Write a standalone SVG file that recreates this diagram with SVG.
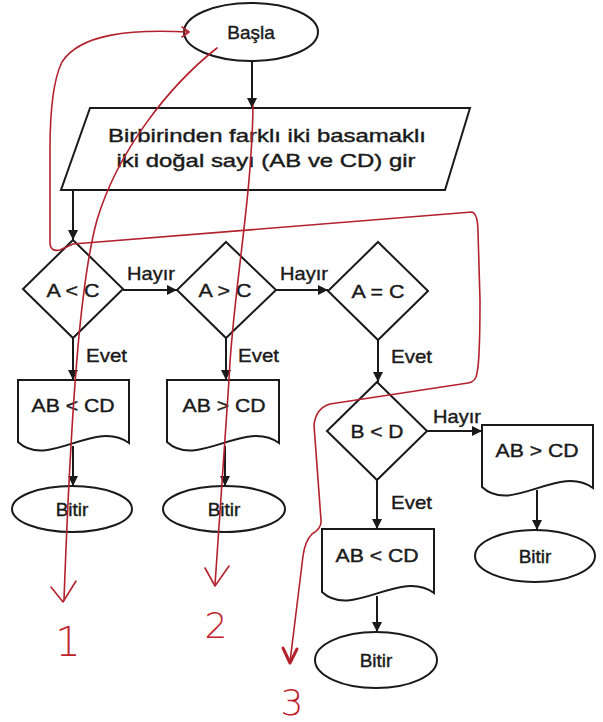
<svg xmlns="http://www.w3.org/2000/svg" width="603" height="722" viewBox="0 0 603 722">
  <style>
    .shape { fill: #ffffff; stroke: #1a1a1a; stroke-width: 2; }
    .lbl { font-family: "Liberation Sans", Arial, sans-serif; font-size: 19px; fill: #1a1a1a; stroke: #1a1a1a; stroke-width: 0.4; text-anchor: middle; }
    .tag { font-family: "Liberation Sans", Arial, sans-serif; font-size: 19px; fill: #1a1a1a; stroke: #1a1a1a; stroke-width: 0.4; }
    .conn { stroke: #1a1a1a; stroke-width: 2; fill: none; marker-end: url(#ah); }
    .pen { stroke: #b3222c; stroke-width: 1.6; fill: none; stroke-linecap: round; stroke-linejoin: round; }
    .num { font-family: "DejaVu Sans", sans-serif; font-weight: 300; fill: #c0222c; text-anchor: middle; }
  </style>
  <defs>
    <marker id="ah" viewBox="0 0 10 10" refX="10" refY="5" markerWidth="5" markerHeight="5" orient="auto" markerUnits="strokeWidth">
      <path d="M0,0 L10,5 L0,10 z" fill="#1a1a1a"/>
    </marker>
  </defs>
  <rect width="603" height="722" fill="#ffffff"/>

  <!-- connectors -->
  <g id="connectors">
    <line class="conn" x1="252" y1="62" x2="252" y2="108"/>
    <line class="conn" x1="73" y1="190" x2="73" y2="240"/>
    <line class="conn" x1="123" y1="290" x2="177" y2="290"/>
    <line class="conn" x1="276" y1="290" x2="328" y2="290"/>
    <line class="conn" x1="73" y1="338" x2="73" y2="380"/>
    <line class="conn" x1="226" y1="338" x2="226" y2="380"/>
    <line class="conn" x1="378" y1="340" x2="378" y2="382"/>
    <line class="conn" x1="427" y1="431" x2="482" y2="431"/>
    <line class="conn" x1="377" y1="480" x2="377" y2="529"/>
    <line class="conn" x1="73" y1="446" x2="73" y2="486"/>
    <line class="conn" x1="225" y1="446" x2="225" y2="486"/>
    <line class="conn" x1="537" y1="490" x2="537" y2="530"/>
    <line class="conn" x1="377" y1="596" x2="377" y2="632"/>
    <text class="tag" x="127" y="280" textLength="48" lengthAdjust="spacingAndGlyphs">Hayır</text>
    <text class="tag" x="280" y="280" textLength="48" lengthAdjust="spacingAndGlyphs">Hayır</text>
    <text class="tag" x="433" y="423" textLength="48" lengthAdjust="spacingAndGlyphs">Hayır</text>
    <text class="tag" x="86" y="362" textLength="41" lengthAdjust="spacingAndGlyphs">Evet</text>
    <text class="tag" x="238" y="362" textLength="41" lengthAdjust="spacingAndGlyphs">Evet</text>
    <text class="tag" x="391" y="363" textLength="41" lengthAdjust="spacingAndGlyphs">Evet</text>
    <text class="tag" x="391" y="509" textLength="41" lengthAdjust="spacingAndGlyphs">Evet</text>
  </g>

  <!-- start -->
  <g id="start">
    <ellipse class="shape" cx="251" cy="32" rx="67" ry="29"/>
    <text class="lbl" x="251" y="39">Başla</text>
  </g>

  <!-- input -->
  <g id="input">
    <polygon class="shape" points="90,108 470,108 445,190 61,190"/>
    <text class="lbl" x="267" y="142" textLength="318" lengthAdjust="spacingAndGlyphs">Birbirinden farklı iki basamaklı</text>
    <text class="lbl" x="266" y="167" textLength="299" lengthAdjust="spacingAndGlyphs">iki doğal sayı (AB ve CD) gir</text>
  </g>

  <!-- decisions -->
  <g id="dec-a-lt-c">
    <polygon class="shape" points="73,240 123,289 73,338 23,289"/>
    <text class="lbl" x="73" y="297" textLength="53" lengthAdjust="spacingAndGlyphs">A &lt; C</text>
  </g>
  <g id="dec-a-gt-c">
    <polygon class="shape" points="226,242 276,290 226,338 177,290"/>
    <text class="lbl" x="225" y="297" textLength="53" lengthAdjust="spacingAndGlyphs">A &gt; C</text>
  </g>
  <g id="dec-a-eq-c">
    <polygon class="shape" points="378,242 428,291 378,340 328,291"/>
    <text class="lbl" x="378" y="298" textLength="53" lengthAdjust="spacingAndGlyphs">A = C</text>
  </g>
  <g id="dec-b-lt-d">
    <polygon class="shape" points="377,382 427,431 377,480 327,431"/>
    <text class="lbl" x="377" y="438" textLength="53" lengthAdjust="spacingAndGlyphs">B &lt; D</text>
  </g>

  <!-- outputs -->
  <g id="out-1">
    <path class="shape" d="M18,380 H129 V443 C95,418 48,470 18,442 Z"/>
    <text class="lbl" x="73" y="412" textLength="83" lengthAdjust="spacingAndGlyphs">AB &lt; CD</text>
  </g>
  <g id="out-2">
    <path class="shape" d="M167,380 H279 V443 C245,418 197,470 167,442 Z"/>
    <text class="lbl" x="224" y="412" textLength="83" lengthAdjust="spacingAndGlyphs">AB &gt; CD</text>
  </g>
  <g id="out-3">
    <path class="shape" d="M482,425 H593 V488 C559,463 512,515 482,487 Z"/>
    <text class="lbl" x="537" y="457" textLength="83" lengthAdjust="spacingAndGlyphs">AB &gt; CD</text>
  </g>
  <g id="out-4">
    <path class="shape" d="M322,529 H434 V593 C400,568 352,620 322,592 Z"/>
    <text class="lbl" x="377" y="562" textLength="83" lengthAdjust="spacingAndGlyphs">AB &lt; CD</text>
  </g>

  <!-- ends -->
  <g id="end-1">
    <ellipse class="shape" cx="72" cy="509" rx="60" ry="23"/>
    <text class="lbl" x="72" y="516">Bitir</text>
  </g>
  <g id="end-2">
    <ellipse class="shape" cx="224" cy="509" rx="61" ry="23"/>
    <text class="lbl" x="224" y="516">Bitir</text>
  </g>
  <g id="end-3">
    <ellipse class="shape" cx="535" cy="556" rx="60" ry="26"/>
    <text class="lbl" x="535" y="563">Bitir</text>
  </g>
  <g id="end-4">
    <ellipse class="shape" cx="376" cy="660" rx="61" ry="28"/>
    <text class="lbl" x="376" y="667">Bitir</text>
  </g>

  <!-- hand-drawn red trace marks -->
  <g id="pen-marks">
    <path class="pen" d="M188,32 C130,29 80,34 62,62 C52,82 50,120 50,150 L50,244 Q51,252 60,250 L73,244 L472,212 Q478,214 478,232 L480,300 Q480,360 477,373 Q476,382 468,383 L330,404 Q316,408 314,425 L321,520 Q322,528 312,534 Q305,541 303,556 L290,662"/>
    <path class="pen" d="M182,27 L189,32 L182,37"/>
    <path class="pen" d="M283,648 L290,663 L297,649" style="stroke-width:3"/>
    <path class="pen" d="M217,48 C170,85 118,150 97,220 C82,275 72,380 64,600"/>
    <path class="pen" d="M51,587 L63,602 L76,581"/>
    <path class="pen" d="M253,106 C252,200 232,300 229,380 L215,585"/>
    <path class="pen" d="M205,568 L215,586 L229,566"/>
    <text class="num" x="68" y="656" style="font-size:40px">1</text>
    <text class="num" x="216" y="638" style="font-size:36px">2</text>
    <text class="num" x="292" y="715" style="font-size:36px">3</text>
  </g>
</svg>
